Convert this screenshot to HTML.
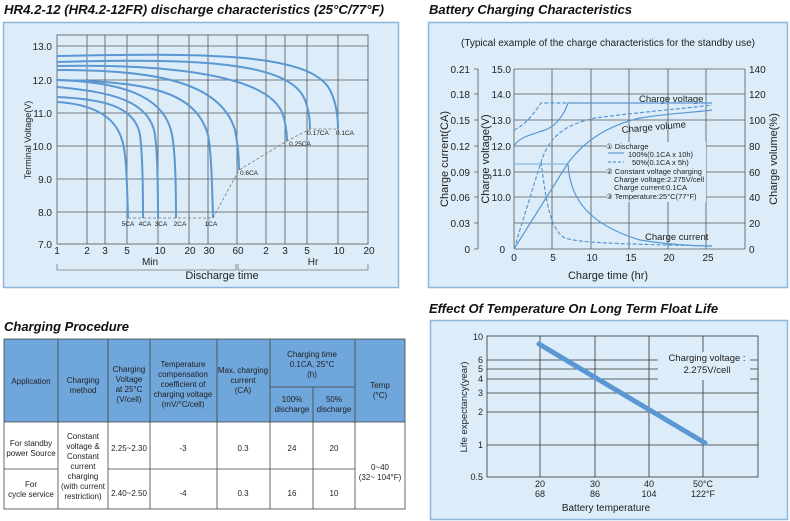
<!DOCTYPE html>
<html><head><meta charset="utf-8"><style>
body{margin:0;background:#fff;}
svg{display:block;font-family:"Liberation Sans",Arial,sans-serif;}
</style></head><body>
<svg width="790" height="521" viewBox="0 0 790 521" xmlns="http://www.w3.org/2000/svg">
<g font-weight="bold" font-style="italic" font-size="13" fill="#111">
<text x="4" y="14" textLength="380" lengthAdjust="spacingAndGlyphs">HR4.2-12 (HR4.2-12FR) discharge characteristics (25°C/77°F)</text>
<text x="429" y="14">Battery Charging Characteristics</text>
<text x="4" y="331">Charging Procedure</text>
<text x="429" y="313">Effect Of Temperature On Long Term Float Life</text>
</g>
<!-- Panel 1 -->
<rect x="3.5" y="22.5" width="395" height="265" fill="#dcedf9" stroke="#8db6de" stroke-width="1.5"/>
<g stroke="#555" stroke-width="0.8" fill="none">
<rect x="57" y="35" width="311" height="209"/>
<path d="M57 46H368M57 80H368M57 113H368M57 146H368M57 179H368M57 212H368"/>
<path d="M87 35V244M105 35V244M127 35V244M158 35V244M189 35V244M208 35V244M237 35V244M266 35V244M285 35V244M307 35V244M338 35V244"/>
<path d="M57 264V270H236V264M238 264V270H368V264" stroke="#777"/>
</g>
<g font-size="10" fill="#222" text-anchor="end">
<text x="52" y="50">13.0</text><text x="52" y="84">12.0</text><text x="52" y="117">11.0</text><text x="52" y="150">10.0</text><text x="52" y="183">9.0</text><text x="52" y="216">8.0</text><text x="52" y="248">7.0</text>
</g>
<g font-size="10" fill="#222" text-anchor="middle">
<text x="57" y="254">1</text><text x="87" y="254">2</text><text x="105" y="254">3</text><text x="127" y="254">5</text><text x="160" y="254">10</text><text x="190" y="254">20</text><text x="209" y="254">30</text><text x="238" y="254">60</text><text x="266" y="254">2</text><text x="285" y="254">3</text><text x="307" y="254">5</text><text x="339" y="254">10</text><text x="369" y="254">20</text>
<text x="150" y="265">Min</text><text x="313" y="265">Hr</text>
<text x="222" y="279" font-size="11">Discharge time</text>
</g>
<text transform="translate(31,140) rotate(-90)" font-size="9" fill="#222" text-anchor="middle">Terminal Voltage(V)</text>
<g stroke="#5b97d3" stroke-width="2" fill="none">
<path d="M57 102C90 104 115 115 122 140C126 150 127 180 128 218"/>
<path d="M57 97C100 99 135 105 140 135C142 150 143 180 143 218"/>
<path d="M57 87C110 92 150 100 155 135C157 150 158 180 158 218"/>
<path d="M57 80C120 82 165 95 172 135C175 150 176 180 176 218"/>
<path d="M57 80C140 82 195 88 208 135C211 150 212 180 213 218"/>
<path d="M57 70C150 70 220 80 235 130C238 145 239 160 239 170"/>
<path d="M57 66C170 64 270 75 283 115C286 125 287 135 287 141"/>
<path d="M57 62C200 58 290 62 305 100C309 110 310 120 310 129"/>
<path d="M57 56C200 53 310 52 330 90C336 102 338 115 338 129"/>
</g>
<path d="M128 218H213L239 170L287 141L310 129H338" stroke="#777" stroke-width="0.8" stroke-dasharray="3,2" fill="none"/>
<g font-size="6.5" fill="#222" text-anchor="middle">
<text x="128" y="226">5CA</text><text x="145" y="226">4CA</text><text x="161" y="226">3CA</text><text x="180" y="226">2CA</text><text x="211" y="226">1CA</text>
<text x="249" y="175">0.6CA</text><text x="300" y="146">0.25CA</text><text x="318" y="135">0.17CA</text><text x="345" y="135">0.1CA</text>
</g>
<!-- Panel 2 -->
<rect x="428.5" y="22.5" width="359" height="265" fill="#dcedf9" stroke="#8db6de" stroke-width="1.5"/>
<text x="608" y="46" font-size="10" fill="#222" text-anchor="middle">(Typical example of the charge characteristics for the standby use)</text>
<g stroke="#555" stroke-width="0.8" fill="none">
<path d="M514 69V249M745 69V249M478 69V249M474 69H478M474 94H478M474 120H478M474 146H478M474 172H478M474 197H478M474 223H478M474 249H478"/>
<path d="M514 69H745M514 94H745M514 120H745M514 146H745M514 172H745M514 197H745M514 223H745M514 249H745"/>
<path d="M552 69V249M591 69V249M629 69V249M668 69V249M706 69V249"/>
</g>
<rect x="606" y="142" width="100" height="60" fill="#dcedf9"/>
<g font-size="10" fill="#222">
<g text-anchor="end"><text x="470" y="73">0.21</text><text x="470" y="98">0.18</text><text x="470" y="124">0.15</text><text x="470" y="150">0.12</text><text x="470" y="176">0.09</text><text x="470" y="201">0.06</text><text x="470" y="227">0.03</text><text x="470" y="253">0</text>
<text x="511" y="73">15.0</text><text x="511" y="98">14.0</text><text x="511" y="124">13.0</text><text x="511" y="150">12.0</text><text x="511" y="176">11.0</text><text x="511" y="201">10.0</text><text x="505" y="253">0</text></g>
<g><text x="749" y="73">140</text><text x="749" y="98">120</text><text x="749" y="124">100</text><text x="749" y="150">80</text><text x="749" y="176">60</text><text x="749" y="201">40</text><text x="749" y="227">20</text><text x="749" y="253">0</text></g>
<g text-anchor="middle"><text x="514" y="261">0</text><text x="553" y="261">5</text><text x="592" y="261">10</text><text x="631" y="261">15</text><text x="669" y="261">20</text><text x="708" y="261">25</text>
<text x="608" y="279" font-size="11">Charge time  (hr)</text></g>
<text transform="translate(448,159) rotate(-90)" font-size="11" text-anchor="middle">Charge current(CA)</text>
<text transform="translate(489,159) rotate(-90)" font-size="11" text-anchor="middle">Charge voltage(V)</text>
<text transform="translate(777,159) rotate(-90)" font-size="11" text-anchor="middle">Charge volume(%)</text>
<text x="639" y="102" font-size="9.5">Charge voltage</text>
<text x="622" y="133" font-size="9.5" transform="rotate(-5 622 133)">Charge volume</text>
<text x="645" y="240" font-size="9.5">Charge current</text>
</g>
<g font-size="7.5" fill="#222">
<text x="606" y="149">① Discharge</text>
<text x="628" y="157">100%(0.1CA x 10h)</text>
<text x="632" y="165">50%(0.1CA x 5h)</text>
<text x="606" y="174">② Constant voltage charging</text>
<text x="614" y="182">Charge voltage:2.275V/cell</text>
<text x="614" y="190">Charge current:0.1CA</text>
<text x="606" y="199">③ Temperature:25°C(77°F)</text>
</g>
<path d="M608 153H624" stroke="#5b97d3" stroke-width="1.2"/>
<path d="M608 162H624" stroke="#5b97d3" stroke-width="1.2" stroke-dasharray="3,2"/>
<g stroke="#5b97d3" stroke-width="1.2" fill="none">
<path d="M514 146C518 138 530 135 545 130C556 126 564 115 568 103H712"/>
<path d="M514 164H568" stroke="#8ab8e0"/>
<path d="M568 164C570 200 590 225 640 240C670 245 700 246 712 246"/>
<path d="M514 249L568 163C585 140 610 125 640 118C670 113 700 112 712 110"/>
</g>
<g stroke="#5b97d3" stroke-width="1.2" fill="none" stroke-dasharray="4,2">
<path d="M514 130C525 125 533 115 541 103H568"/>
<path d="M541 162C546 200 550 230 565 238C580 243 620 244 712 246"/>
<path d="M514 249L541 162C550 135 565 125 595 118C640 112 690 108 712 105"/>
</g>
<!-- Panel 3: table -->
<g font-size="8" fill="#222" text-anchor="middle">
<rect x="4" y="339" width="401" height="83" fill="#6fa6db"/>
<g stroke="#444" stroke-width="0.8" fill="none">
<rect x="4" y="339" width="401" height="170"/>
<path d="M58 339V509M108 339V509M150 339V509M217 339V509M270 339V509M313 387V509M355 339V509M270 387H355M4 422H405M4 469H58M108 469H355"/>
</g>
<text x="31" y="384">Application</text>
<text x="83" y="383">Charging</text><text x="83" y="393">method</text>
<text x="129" y="372">Charging</text><text x="129" y="382">Voltage</text><text x="129" y="392">at 25°C</text><text x="129" y="402">(V/cell)</text>
<text x="183" y="367">Temperature</text><text x="183" y="377">compensation</text><text x="183" y="387">coefficient of</text><text x="183" y="397">charging voltage</text><text x="183" y="407">(mV/°C/cell)</text>
<text x="243" y="373">Max. charging</text><text x="243" y="383">current</text><text x="243" y="393">(CA)</text>
<text x="312" y="357">Charging time</text><text x="312" y="367">0.1CA, 25°C</text><text x="312" y="377">(h)</text>
<text x="292" y="402">100%</text><text x="292" y="412">discharge</text>
<text x="334" y="402">50%</text><text x="334" y="412">discharge</text>
<text x="380" y="388">Temp</text><text x="380" y="398">(°C)</text>
<text x="31" y="446">For standby</text><text x="31" y="456">power Source</text>
<text x="31" y="487">For</text><text x="31" y="497">cycle service</text>
<text x="83" y="439">Constant</text><text x="83" y="449">voltage &amp;</text><text x="83" y="459">Constant</text><text x="83" y="469">current</text><text x="83" y="479">charging</text><text x="83" y="489">(with current</text><text x="83" y="499">restriction)</text>
<text x="129" y="451">2.25~2.30</text><text x="129" y="496">2.40~2.50</text>
<text x="183" y="451">-3</text><text x="183" y="496">-4</text>
<text x="243" y="451">0.3</text><text x="243" y="496">0.3</text>
<text x="292" y="451">24</text><text x="292" y="496">16</text>
<text x="334" y="451">20</text><text x="334" y="496">10</text>
<text x="380" y="470">0~40</text><text x="380" y="480">(32~ 104°F)</text>
</g>
<!-- Panel 4 -->
<rect x="430.5" y="320.5" width="357" height="199" fill="#dcedf9" stroke="#8db6de" stroke-width="1.5"/>
<g stroke="#333" stroke-width="0.8" fill="none">
<rect x="487" y="336" width="271" height="141"/>
<path d="M487 360H758M487 369H758M487 379H758M487 393H758M487 412H758M487 445H758"/>
<path d="M540 336V477M595 336V477M649 336V477M703 336V477"/>
</g>
<rect x="658" y="352" width="92" height="28" fill="#dcedf9"/>
<g font-size="9" fill="#222">
<g text-anchor="end"><text x="483" y="340">10</text><text x="483" y="363">6</text><text x="483" y="372">5</text><text x="483" y="382">4</text><text x="483" y="396">3</text><text x="483" y="415">2</text><text x="483" y="448">1</text><text x="483" y="480">0.5</text></g>
<g text-anchor="middle"><text x="540" y="487">20</text><text x="540" y="497">68</text><text x="595" y="487">30</text><text x="595" y="497">86</text><text x="649" y="487">40</text><text x="649" y="497">104</text><text x="703" y="487">50°C</text><text x="703" y="497">122°F</text>
<text x="606" y="511" font-size="10">Battery temperature</text>
<text x="707" y="361" font-size="9.5">Charging voltage :</text><text x="707" y="373" font-size="9.5">2.275V/cell</text></g>
<text transform="translate(467,407) rotate(-90)" font-size="9.5" text-anchor="middle">Life expectancy(year)</text>
</g>
<path d="M539 344L705 443" stroke="#5b97d3" stroke-width="5" stroke-linecap="round"/>
</svg>
</body></html>
